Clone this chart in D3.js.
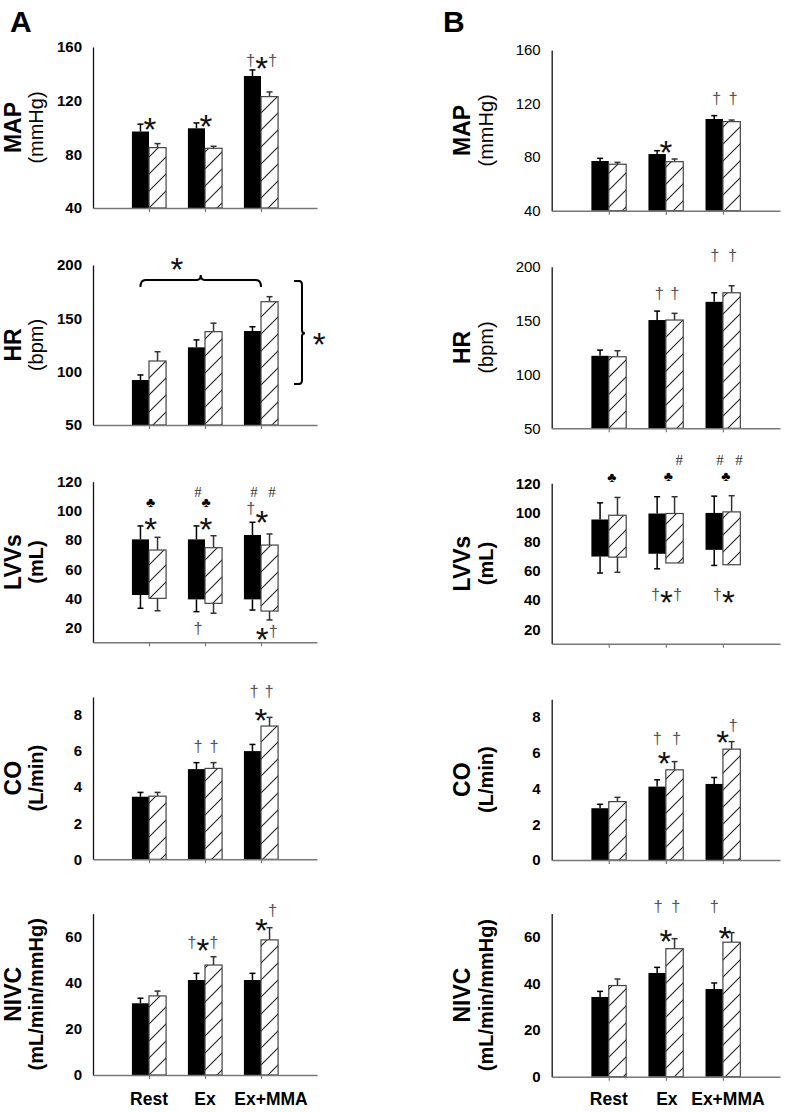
<!DOCTYPE html>
<html><head><meta charset="utf-8">
<script src="https://cdn.jsdelivr.net/npm/d3@7"></script>
<style>body{margin:0;background:#fff}svg{display:block}</style>
</head><body>
<svg id="chart" width="785" height="1112"></svg>
<script>
// ---------------- data ----------------
const categories = ["Rest", "Ex", "Ex+MMA"];

// Panel A
const A_MAP_solid = [97, 99.4, 138.4];      const A_MAP_solidErr = [5.5, 4, 4.5];
const A_MAP_hatch = [85, 84.5, 123];        const A_MAP_hatchErr = [3, 1.5, 3.5];
const A_HR_solid = [92.2, 122.8, 138.1];    const A_HR_solidErr = [4.7, 7, 4];
const A_HR_hatch = [110, 137.5, 165.6];     const A_HR_hatchErr = [8.7, 8, 4.7];
const A_LVV_solidHigh = [80.5, 80.5, 83.5]; const A_LVV_solidLow = [42.4, 39.4, 39.4];
const A_LVV_solidErrUp = [9.2, 9.2, 8.7];   const A_LVV_solidErrDown = [9.1, 8.4, 7.3];
const A_LVV_hatchHigh = [73.2, 74.8, 76.6]; const A_LVV_hatchLow = [40.1, 36.7, 31.4];
const A_LVV_hatchErrUp = [8.7, 8.2, 7.6];   const A_LVV_hatchErrDown = [8.5, 6.8, 6.1];
const A_CO_solid = [3.47, 5.0, 6.0];        const A_CO_solidErr = [0.24, 0.36, 0.37];
const A_CO_hatch = [3.5, 5.04, 7.39];       const A_CO_hatchErr = [0.21, 0.32, 0.48];
const A_NIVC_solid = [31.1, 41.2, 41.2];    const A_NIVC_solidErr = [2.2, 2.9, 2.9];
const A_NIVC_hatch = [34.3, 47.7, 58.6];    const A_NIVC_hatchErr = [2.1, 3.6, 5.3];

// Panel B
const B_MAP_solid = [77.1, 82.3, 108.5];    const B_MAP_solidErr = [2, 2.5, 2.5];
const B_MAP_hatch = [74.7, 76.6, 106.5];    const B_MAP_hatchErr = [1.4, 2, 1.2];
const B_HR_solid = [117.3, 150.5, 167.4];   const B_HR_solidErr = [5.3, 8.3, 8.4];
const B_HR_hatch = [116.4, 150.5, 175.8];   const B_HR_hatchErr = [5.6, 6.2, 6.5];
const B_LVV_solidHigh = [95.2, 99.3, 99.7]; const B_LVV_solidLow = [69.8, 71.7, 74.4];
const B_LVV_solidErrUp = [11.4, 11.5, 11.5];const B_LVV_solidErrDown = [11.3, 10.3, 10.7];
const B_LVV_hatchHigh = [98.1, 99.3, 100.4];const B_LVV_hatchLow = [69.4, 65.4, 64.2];
const B_LVV_hatchErrUp = [12.2, 11.5, 11.1];const B_LVV_hatchErrDown = [10.4, 0, 0];
const B_CO_solid = [2.9, 4.11, 4.26];       const B_CO_solidErr = [0.22, 0.38, 0.36];
const B_CO_hatch = [3.27, 5.05, 6.21];      const B_CO_hatchErr = [0.24, 0.46, 0.42];
const B_NIVC_solid = [34.2, 44.5, 37.6];    const B_NIVC_solidErr = [2.4, 2.4, 2.6];
const B_NIVC_hatch = [39.1, 54.9, 57.7];    const B_NIVC_hatchErr = [2.8, 4.3, 4.1];

// tick labels
const MAP_ticks = [40, 80, 120, 160];
const HR_ticks = [50, 100, 150, 200];
const LVV_ticks = [20, 40, 60, 80, 100, 120];
const CO_ticks = [0, 2, 4, 6, 8];
const NIVC_ticks = [0, 20, 40, 60];

// significance marks: category index, offset in bar widths, value, symbols, [per-symbol value shift]
const A_MAP_marks = [[0,0.05,104,"*"],[1,0.05,106,"*"],[2,0.04,149,"†*†"]];
const A_HR_marks = [[0.5,0,202,"*"]];
const A_LVV_marks = [[0,0.1,105.4,"♣"],[0,0.1,91.7,"*"],[1,-0.41,112.9,"#"],[1,0.06,105.4,"♣"],[1,0.06,91.7,"*"],
  [1,-0.41,18.4,"†"],[2,-0.41,112.9,"#"],[2,0.65,112.9,"#"],[2,-0.59,100.6,"†"],[2,0.06,96.5,"*"],[2,0.34,16.6,"*†"]];
const A_CO_marks = [[1,-0.41,6.17,"†"],[1,0.53,6.17,"†"],[2,-0.41,9.22,"†"],[2,0.47,9.22,"†"],[2,0,8.1,"*"]];
const A_NIVC_marks = [[1,-0.12,57.1,"†*†"],[2,0.3,65.8,"*†",[0,5.1]]];
const B_MAP_marks = [[1,0,88.5,"*"],[2,-0.36,122.7,"†"],[2,0.59,122.7,"†"]];
const B_HR_marks = [[1,-0.38,173.7,"†"],[1,0.52,173.7,"†"],[2,-0.46,209.2,"†"],[2,0.56,209.2,"†"]];
const B_LVV_marks = [[0,0.17,124.1,"♣"],[1,0.14,124.3,"♣"],[1,0.77,136,"#"],[2,0.17,124.3,"♣"],[2,-0.17,136,"#"],[2,0.93,136,"#"],
  [1,0.04,43,"†*†"],[2,0.05,43,"†*"]];
const B_CO_marks = [[1,-0.49,6.73,"†"],[1,-0.09,5.79,"*"],[1,0.62,6.73,"†"],[2,-0.02,6.95,"*"],[2,0.59,7.48,"†"]];
const B_NIVC_marks = [[1,-0.44,72.5,"†"],[1,0.58,72.5,"†"],[1,0.01,61,"*"],[2,-0.5,72.5,"†"],[2,0.11,62.4,"*"]];

// HR (panel A) comparison brackets: horizontal across conditions, vertical across groups
const A_HR_hBracket = {from:[0,-0.5], to:[2,0], value:186, tip:179.4, spike:190.6};
const A_HR_vBracket = {cat:2, dx:2.4, top:185, bottom:88.4, mid:136, starDx:3.4, starValue:131.6};

// ---------------- layout ----------------
const rowDefs = [
  {name:"MAP", unit:"(mmHg)", unitBold:false, domain:[40,160], ticks:MAP_ticks, kind:"bar"},
  {name:"HR", unit:"(bpm)", unitBold:false, domain:[50,200], ticks:HR_ticks, kind:"bar"},
  {name:"LVVs", unit:"(mL)", unitBold:true, domain:[10,120], ticks:LVV_ticks, kind:"range"},
  {name:"CO", unit:"(L/min)", unitBold:true, domain:[0,9], ticks:CO_ticks, kind:"bar"},
  {name:"NIVC", unit:"(mL/min/mmHg)", unitBold:true, domain:[0,70], ticks:NIVC_ticks, kind:"bar"}
];
const columns = [
  {letter:"A", letterX:10, axisX:93, axisEnd:317, lab1:-72, lab2:-50,
   rowsPx:[[208,47],[425,265],[642.3,481.7],[859.3,697],[1075,913.6]],
   tickBold:[true,true,true,true,true], xNudge:[0,0,10],
   panels:[
    {solid:A_MAP_solid, solidErr:A_MAP_solidErr, hatch:A_MAP_hatch, hatchErr:A_MAP_hatchErr, marks:A_MAP_marks},
    {solid:A_HR_solid, solidErr:A_HR_solidErr, hatch:A_HR_hatch, hatchErr:A_HR_hatchErr, marks:A_HR_marks},
    {sHigh:A_LVV_solidHigh, sLow:A_LVV_solidLow, sUp:A_LVV_solidErrUp, sDown:A_LVV_solidErrDown,
     hHigh:A_LVV_hatchHigh, hLow:A_LVV_hatchLow, hUp:A_LVV_hatchErrUp, hDown:A_LVV_hatchErrDown, marks:A_LVV_marks},
    {solid:A_CO_solid, solidErr:A_CO_solidErr, hatch:A_CO_hatch, hatchErr:A_CO_hatchErr, marks:A_CO_marks},
    {solid:A_NIVC_solid, solidErr:A_NIVC_solidErr, hatch:A_NIVC_hatch, hatchErr:A_NIVC_hatchErr, marks:A_NIVC_marks}
   ]},
  {letter:"B", letterX:443, axisX:551.7, axisEnd:780, lab1:-82, lab2:-59,
   rowsPx:[[210.7,50],[428.3,266.7],[643.8,483.3],[860,699.3],[1076.7,913.5]],
   tickBold:[false,false,true,true,true], xNudge:[0,1,5],
   panels:[
    {solid:B_MAP_solid, solidErr:B_MAP_solidErr, hatch:B_MAP_hatch, hatchErr:B_MAP_hatchErr, marks:B_MAP_marks},
    {solid:B_HR_solid, solidErr:B_HR_solidErr, hatch:B_HR_hatch, hatchErr:B_HR_hatchErr, marks:B_HR_marks},
    {sHigh:B_LVV_solidHigh, sLow:B_LVV_solidLow, sUp:B_LVV_solidErrUp, sDown:B_LVV_solidErrDown,
     hHigh:B_LVV_hatchHigh, hLow:B_LVV_hatchLow, hUp:B_LVV_hatchErrUp, hDown:B_LVV_hatchErrDown, marks:B_LVV_marks},
    {solid:B_CO_solid, solidErr:B_CO_solidErr, hatch:B_CO_hatch, hatchErr:B_CO_hatchErr, marks:B_CO_marks},
    {solid:B_NIVC_solid, solidErr:B_NIVC_solidErr, hatch:B_NIVC_hatch, hatchErr:B_NIVC_hatchErr, marks:B_NIVC_marks}
   ]}
];

const FONT = "Arial, 'Liberation Sans', Helvetica, sans-serif";
const markStyle = {
  "*": {size:33, base:0.56, fill:"#111", family:FONT},
  "†": {size:16.5, base:0.27, fill:"#555", family:FONT},
  "#": {size:15, base:0.34, fill:"#333", family:"'Liberation Serif', serif"},
  "♣": {size:14, base:0.30, fill:"#000", family:FONT}
};

// ---------------- drawing ----------------
const svg = d3.select("#chart");
const defs = svg.append("defs");
const pat = defs.append("pattern").attr("id","hatch").attr("patternUnits","userSpaceOnUse")
  .attr("width",17).attr("height",17);
pat.append("rect").attr("width",17).attr("height",17).attr("fill","#fff");
pat.append("path").attr("d","M0,17 L17,0 M-4,4 L4,-4 M13,21 L21,13")
  .attr("stroke","#222").attr("stroke-width",1.1);

function errLine(g, cx, y0, y1, color) {
  g.append("line").attr("x1",cx).attr("x2",cx).attr("y1",y0).attr("y2",y1)
    .attr("stroke",color).attr("stroke-width",1.5);
  g.append("line").attr("x1",cx-3).attr("x2",cx+3).attr("y1",y1).attr("y2",y1)
    .attr("stroke",color).attr("stroke-width",1.5);
}

function drawMark(g, px, v, str, shifts, y) {
  const chars = Array.from(str);
  const t = g.append("text").attr("x", px).attr("text-anchor", "middle");
  let prevBase = null;
  chars.forEach((ch, k) => {
    const st = markStyle[ch];
    const vv = v + (shifts ? shifts[k] : 0);
    const base = y(vv) + st.base * st.size;
    const ts = t.append("tspan").attr("font-family", st.family).attr("font-size", st.size)
      .attr("fill", st.fill).text(ch);
    if (prevBase === null) t.attr("y", base);
    else ts.attr("dy", base - prevBase);
    prevBase = base;
  });
}

columns.forEach(col => {
  svg.append("text").attr("x",col.letterX).attr("y",32).text(col.letter)
    .attr("font-family",FONT).attr("font-weight","bold").attr("font-size",30).attr("fill","#000");

  rowDefs.forEach((row, ri) => {
    const d = col.panels[ri];
    const [pyBottom, pyTop] = col.rowsPx[ri];
    const g = svg.append("g");
    const x = d3.scalePoint().domain(categories).range([col.axisX, col.axisEnd]).padding(1);
    const y = d3.scaleLinear().domain(row.domain).range([pyBottom, pyTop]);
    const bw = x.step() * 0.305;
    const xc = (ci) => {
      const i0 = Math.floor(ci), f = ci - i0;
      return x(categories[i0]) + f * x.step();
    };

    // error bars (behind bars)
    categories.forEach((c, i) => {
      const cs = x(c) - bw/2, ch = x(c) + bw/2;
      if (row.kind === "bar") {
        errLine(g, cs, y(d.solid[i]), y(d.solid[i] + d.solidErr[i]), "#000");
        errLine(g, ch, y(d.hatch[i]), y(d.hatch[i] + d.hatchErr[i]), "#333");
      } else {
        errLine(g, cs, y(d.sHigh[i]), y(d.sHigh[i] + d.sUp[i]), "#000");
        errLine(g, cs, y(d.sLow[i]), y(d.sLow[i] - d.sDown[i]), "#000");
        errLine(g, ch, y(d.hHigh[i]), y(d.hHigh[i] + d.hUp[i]), "#333");
        if (d.hDown[i] > 0) errLine(g, ch, y(d.hLow[i]), y(d.hLow[i] - d.hDown[i]), "#333");
      }
    });
    // bars
    categories.forEach((c, i) => {
      let sHi, sLo, hHi, hLo;
      if (row.kind === "bar") { sHi = d.solid[i]; sLo = row.domain[0]; hHi = d.hatch[i]; hLo = row.domain[0]; }
      else { sHi = d.sHigh[i]; sLo = d.sLow[i]; hHi = d.hHigh[i]; hLo = d.hLow[i]; }
      g.append("rect").attr("x", x(c) - bw).attr("width", bw)
        .attr("y", y(sHi)).attr("height", y(sLo) - y(sHi)).attr("fill", "#000");
      g.append("rect").attr("x", x(c)).attr("width", bw)
        .attr("y", y(hHi)).attr("height", y(hLo) - y(hHi))
        .attr("fill", "url(#hatch)").attr("stroke", "#444").attr("stroke-width", 1.2);
    });

    // y axis
    const ya = g.append("g").attr("transform", `translate(${col.axisX},0)`)
      .call(d3.axisLeft(y).tickValues(row.ticks).tickSize(0).tickPadding(11).tickSizeOuter(0));
    ya.select(".domain").attr("stroke", "#111").attr("stroke-width", 1.3);
    ya.selectAll("text").attr("font-family", FONT).attr("font-size", 15)
      .attr("font-weight", col.tickBold[ri] ? "bold" : "normal").attr("fill", "#000");

    // x axis
    const xa = g.append("g").attr("transform", `translate(0,${pyBottom})`)
      .call(d3.axisBottom(x).tickSize(4).tickSizeOuter(0).tickFormat(""));
    xa.select(".domain").attr("stroke", "#777").attr("stroke-width", 1.5);
    xa.selectAll(".tick line").attr("stroke", "#777").attr("stroke-width", 1.2);

    // y label
    const cy = (pyBottom + pyTop) / 2;
    g.append("text").attr("transform", "rotate(-90)")
      .attr("x", -cy).attr("y", col.axisX + col.lab1).attr("text-anchor", "middle")
      .attr("font-family", FONT).attr("font-weight", "bold").attr("font-size", 23).text(row.name);
    g.append("text").attr("transform", "rotate(-90)")
      .attr("x", -cy).attr("y", col.axisX + col.lab2).attr("text-anchor", "middle")
      .attr("font-family", FONT).attr("font-weight", row.unitBold ? "bold" : "normal")
      .attr("font-size", 20).text(row.unit);

    // marks
    d.marks.forEach(([ci, dx, v, s, shifts]) => drawMark(g, xc(ci) + dx * bw, v, s, shifts, y));

    // brackets in panel A HR
    if (col.letter === "A" && row.name === "HR") {
      const hb = A_HR_hBracket;
      const x1 = x(categories[hb.from[0]]) + hb.from[1] * bw;
      const x2 = x(categories[hb.to[0]]) + hb.to[1] * bw;
      const xm = (x1 + x2) / 2, y0 = y(hb.value), yt = y(hb.tip), ys = y(hb.spike);
      g.append("path").attr("fill", "none").attr("stroke", "#000").attr("stroke-width", 2)
        .attr("d", `M${x1},${yt} Q${x1},${y0} ${x1+5},${y0} L${xm-4},${y0} Q${xm},${y0} ${xm},${ys} Q${xm},${y0} ${xm+4},${y0} L${x2-5},${y0} Q${x2},${y0} ${x2},${yt}`);
      const vb = A_HR_vBracket;
      const vx = x(categories[vb.cat]) + vb.dx * bw;
      const yA = y(vb.top), yB = y(vb.bottom), yM = y(vb.mid);
      g.append("path").attr("fill", "none").attr("stroke", "#000").attr("stroke-width", 2)
        .attr("d", `M${vx-8},${yA} L${vx-3},${yA} Q${vx},${yA} ${vx},${yA+4} L${vx},${yM-3} Q${vx},${yM} ${vx+3},${yM} Q${vx},${yM} ${vx},${yM+3} L${vx},${yB-4} Q${vx},${yB} ${vx-3},${yB} L${vx-8},${yB}`);
      drawMark(g, x(categories[vb.cat]) + vb.starDx * bw, vb.starValue, "*", null, y);
    }

    // category labels on last row
    if (ri === rowDefs.length - 1) {
      categories.forEach((c, i) => {
        g.append("text").attr("x", x(c) + col.xNudge[i]).attr("y", 1105)
          .attr("text-anchor", "middle").attr("font-family", FONT).attr("font-weight", "bold")
          .attr("font-size", 17.5).text(c);
      });
    }
  });
});
</script>
</body></html>
